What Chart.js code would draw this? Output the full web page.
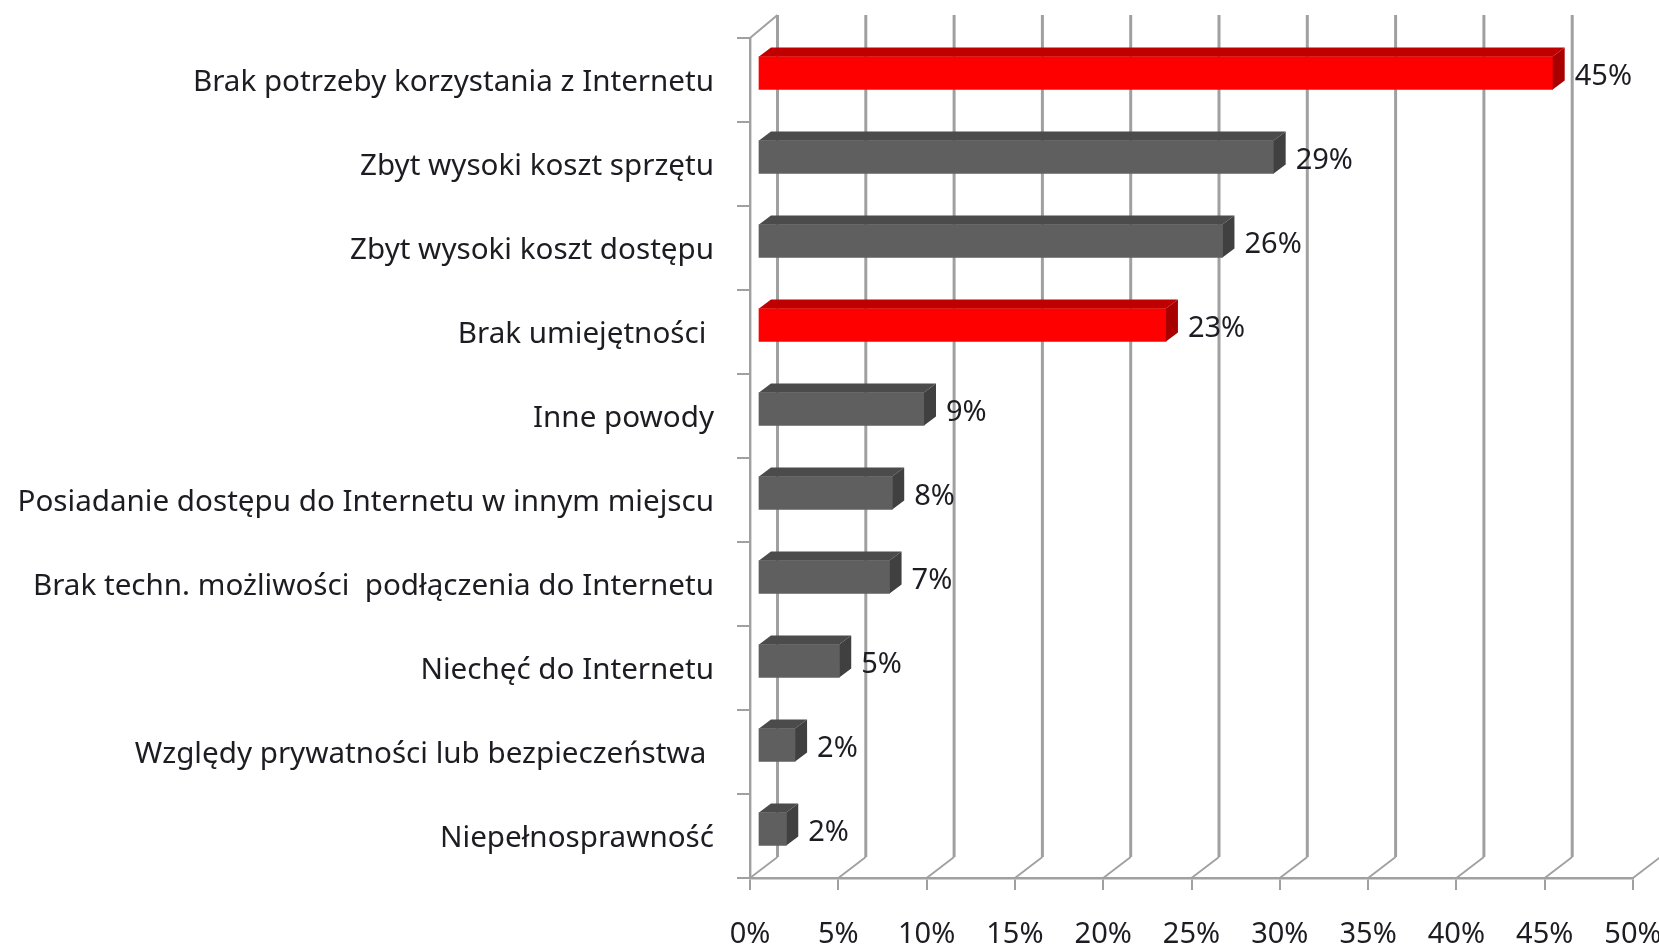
<!DOCTYPE html>
<html lang="pl">
<head>
  <meta charset="UTF-8" />
  <title>Powody braku dostępu do Internetu</title>
  <script src="https://cdn.jsdelivr.net/npm/chart.js"></script>
  <style>
    body { margin: 0; background: #fff; overflow: hidden; }
    #chartContainer { width: 1659px; height: 946px; }
    canvas { filter: blur(0.6px); }
  </style>
</head>
<body>
  <div id="chartContainer"><canvas id="myChart" width="1659" height="946"></canvas></div>

  <script>
    const categories = [
      "Brak potrzeby korzystania z Internetu",
      "Zbyt wysoki koszt sprzętu",
      "Zbyt wysoki koszt dostępu",
      "Brak umiejętności ",
      "Inne powody",
      "Posiadanie dostępu do Internetu w innym miejscu",
      "Brak techn. możliwości  podłączenia do Internetu",
      "Niechęć do Internetu",
      "Względy prywatności lub bezpieczeństwa ",
      "Niepełnosprawność"
    ];
    const values = [45.0, 29.2, 26.3, 23.1, 9.4, 7.6, 7.45, 4.6, 2.1, 1.6];
    const valueLabels = ["45%", "29%", "26%", "23%", "9%", "8%", "7%", "5%", "2%", "2%"];
    const highlighted = [0, 3];
    const xTicks = [0, 5, 10, 15, 20, 25, 30, 35, 40, 45, 50];

    const GRID = "#a0a0a0";
    const TEXT = "#1c1c22";
    const FONT = "'Noto Sans', sans-serif";
    const FONT_SIZE = 29;

    // fake 3D: back wall offset and bar depth, in px
    const WALL = { dx: 27.5, dy: -21 };
    const BAR = { dx: 8, dy: -7, depthX: 12, depthY: -9 };

    const pick = (i, a, b) => (highlighted.includes(i) ? a : b);

    const fake3d = {
      id: "fake3d",
      beforeDatasetsDraw(chart) {
        const { ctx, chartArea, scales } = chart;
        ctx.save();
        ctx.strokeStyle = GRID;
        xTicks.forEach((t) => {
          const x = scales.x.getPixelForValue(t);
          ctx.lineWidth = 1.8;
          ctx.beginPath();
          ctx.moveTo(x, chartArea.bottom);
          ctx.lineTo(x + WALL.dx, chartArea.bottom + WALL.dy);
          ctx.stroke();
          ctx.lineWidth = 3;
          ctx.beginPath();
          ctx.moveTo(x + WALL.dx, chartArea.bottom + WALL.dy);
          ctx.lineTo(x + WALL.dx, chartArea.top - 23);
          ctx.stroke();
        });
        // top edge of the side wall
        ctx.lineWidth = 2;
        ctx.beginPath();
        ctx.moveTo(chartArea.left, chartArea.top);
        ctx.lineTo(chartArea.left + WALL.dx, chartArea.top - 23);
        ctx.stroke();
        ctx.restore();

        // bars sit a little inside the box
        ctx.save();
        ctx.translate(BAR.dx, BAR.dy);
      },
      afterDatasetsDraw(chart) {
        const { ctx } = chart;
        const bars = chart.getDatasetMeta(0).data;
        bars.forEach((bar, i) => {
          const top = bar.y - bar.height / 2;
          const bottom = bar.y + bar.height / 2;
          // top face
          ctx.fillStyle = pick(i, "#c00000", "#4b4b4b");
          ctx.beginPath();
          ctx.moveTo(bar.base, top);
          ctx.lineTo(bar.base + BAR.depthX, top + BAR.depthY);
          ctx.lineTo(bar.x + BAR.depthX, top + BAR.depthY);
          ctx.lineTo(bar.x, top);
          ctx.closePath();
          ctx.fill();
          // side face
          ctx.fillStyle = pick(i, "#a80000", "#404040");
          ctx.beginPath();
          ctx.moveTo(bar.x, top);
          ctx.lineTo(bar.x + BAR.depthX, top + BAR.depthY);
          ctx.lineTo(bar.x + BAR.depthX, bottom + BAR.depthY);
          ctx.lineTo(bar.x, bottom);
          ctx.closePath();
          ctx.fill();
          // value label
          ctx.fillStyle = TEXT;
          ctx.font = FONT_SIZE + "px " + FONT;
          ctx.textAlign = "left";
          ctx.textBaseline = "middle";
          ctx.fillText(valueLabels[i], bar.x + 22, bar.y + 4);
        });
        ctx.restore();
      }
    };

    const chart = new Chart(document.getElementById("myChart").getContext("2d"), {
      type: "bar",
      data: {
        labels: categories,
        datasets: [{
          data: values,
          barThickness: 33,
          backgroundColor: values.map((v, i) => pick(i, "#ff0000", "#5f5f5f"))
        }]
      },
      plugins: [fake3d],
      options: {
        indexAxis: "y",
        responsive: false,
        animation: false,
        layout: { padding: { top: 38, right: 26, left: 0, bottom: 0 } },
        plugins: { legend: { display: false }, tooltip: { enabled: false } },
        scales: {
          x: {
            min: 0,
            max: 50,
            afterBuildTicks(scale) { scale.ticks = xTicks.map((value) => ({ value })); },
            afterFit(scale) { scale.height = 68; scale.paddingRight = 0; },
            grid: { drawOnChartArea: false, color: GRID, lineWidth: 2, tickLength: 12 },
            border: { color: GRID, width: 2.4 },
            ticks: {
              autoSkip: false,
              maxRotation: 0,
              padding: 27,
              color: TEXT,
              font: { family: FONT, size: FONT_SIZE },
              callback: (v) => v + "%"
            }
          },
          y: {
            afterFit(scale) { scale.width = 750; scale.paddingTop = 0; scale.paddingBottom = 0; },
            grid: { drawOnChartArea: false, color: GRID, lineWidth: 2, tickLength: 13 },
            border: { color: GRID, width: 2.4 },
            ticks: {
              autoSkip: false,
              padding: 23,
              labelOffset: 3,
              color: TEXT,
              font: { family: FONT, size: 29.6 }
            }
          }
        }
      }
    });
  </script>
</body>
</html>
